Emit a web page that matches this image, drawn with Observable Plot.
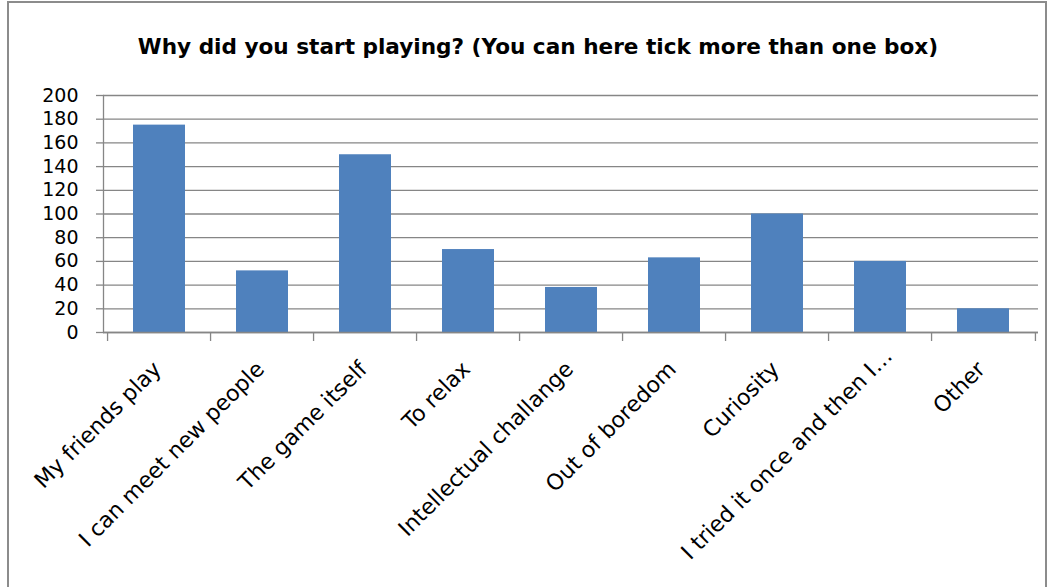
<!DOCTYPE html>
<html>
<head>
<meta charset="utf-8">
<script src="https://cdn.jsdelivr.net/npm/d3@7"></script>
<script src="https://cdn.jsdelivr.net/npm/@observablehq/plot@0.6"></script>
<style>
  html, body { margin: 0; padding: 0; background: #fff; }
  body { width: 1055px; height: 587px; overflow: hidden; position: relative; font-family: "DejaVu Sans", sans-serif; }
  #frame { position: absolute; left: 7px; top: 1px; width: 1040px; height: 640px; border: 2px solid #8c8c8c; box-sizing: border-box; background: #fff; }
  #title { position: absolute; left: 0; top: 29px; width: 1058px; text-align: center; font-family: "DejaVu Sans", sans-serif; font-weight: bold; font-size: 21.6px; line-height: 30px; color: #000; white-space: nowrap; }
  #chart { position: absolute; left: 0; top: 77px; }
</style>
</head>
<body>
<div id="frame">
  <div id="title">Why did you start playing? (You can here tick more than one box)</div>
  <div id="chart"></div>
</div>
<script>
const categories = [
  "My friends play",
  "I can meet new people",
  "The game itself",
  "To relax",
  "Intellectual challange",
  "Out of boredom",
  "Curiosity",
  "I tried it once and then I…",
  "Other"
];
const counts = [175, 52, 150, 70, 38, 63, 100, 60, 20];
const yTicks = [0, 20, 40, 60, 80, 100, 120, 140, 160, 180, 200];

const data = categories.map((c, i) => ({category: c, count: counts[i]}));

const W = 1036, H = 510;
const mL = 94, mR = 7, mT = 15, mB = 258;
const step = (W - mL - mR) / categories.length;
const grid = "#868686";

const truncated = categories[7];
const regular = categories.filter(c => c !== truncated);

const labelOpts = {tickSize: 0, tickPadding: 0, tickRotate: -45, textAnchor: "end", lineAnchor: "middle", fontSize: 22, fill: "#000", label: null};

const chart = Plot.plot({
  width: W,
  height: H,
  marginLeft: mL,
  marginRight: mR,
  marginTop: mT,
  marginBottom: mB,
  style: {fontFamily: "DejaVu Sans, sans-serif", background: "transparent", overflow: "visible"},
  x: {domain: categories, paddingInner: 0.5, paddingOuter: 0.25, label: null},
  y: {domain: [0, 200], label: null},
  marks: [
    Plot.gridY(yTicks, {stroke: grid, strokeOpacity: 1, strokeWidth: 1.3}),
    Plot.barY(data, {x: "category", y: "count", fill: "#4f81bd"}),
    Plot.ruleY([0], {stroke: grid, strokeWidth: 1.3}),
    Plot.frame({anchor: "left", stroke: grid, strokeWidth: 1.3}),
    Plot.axisY(yTicks, {tickSize: 7, tickPadding: 18, stroke: grid, strokeWidth: 1.3, fontSize: 19, fill: "#000", label: null, tickFormat: d => String(d)}),
    // boundary tick marks on the category axis (left of each category, plus the right end)
    Plot.axisX(categories, {tickSize: 9, stroke: grid, strokeWidth: 1.3, tickFormat: null, dx: -step / 2, label: null}),
    Plot.axisX([categories[categories.length - 1]], {tickSize: 9, stroke: grid, strokeWidth: 1.3, tickFormat: null, dx: step / 2, label: null}),
    // rotated category labels
    Plot.axisX(regular, {...labelOpts, dx: -2, dy: 33}),
    Plot.axisX([truncated], {...labelOpts, dx: 8, dy: 20})
  ]
});
document.getElementById("chart").appendChild(chart);
</script>
</body>
</html>
